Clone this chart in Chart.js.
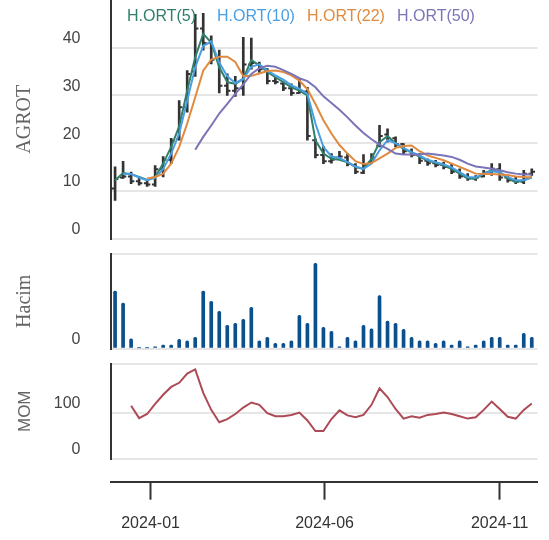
<!DOCTYPE html>
<html>
<head>
<meta charset="utf-8">
<title>AGROT</title>
<script src="https://cdn.jsdelivr.net/npm/chart.js@4"></script>
<style>
  html, body { margin: 0; padding: 0; background: #fff; }
  #wrap { position: relative; width: 549px; height: 540px; overflow: hidden; }
  #wrap canvas { position: absolute; left: 0; }
  #legend { position: absolute; left: 127px; top: 6px; display: flex;
            font: 16px "Liberation Sans", Arial, sans-serif; line-height: 20px; }
  #legend span { width: 90px; white-space: nowrap; }
</style>
</head>
<body>
<div id="wrap">
  <canvas id="price" width="549" height="240" style="top:0"></canvas>
  <canvas id="volume" width="549" height="100" style="top:250px"></canvas>
  <canvas id="mom" width="549" height="102" style="top:360px"></canvas>
  <canvas id="dates" width="549" height="70" style="top:470px"></canvas>
  <div id="legend"></div>
</div>
<script>
/* weekly bars, Friday closes */
const weekDates = [
  "2023-12-01","2023-12-08","2023-12-15","2023-12-22","2023-12-29",
  "2024-01-05","2024-01-12","2024-01-19","2024-01-26",
  "2024-02-02","2024-02-09","2024-02-16","2024-02-23",
  "2024-03-01","2024-03-08","2024-03-15","2024-03-22","2024-03-29",
  "2024-04-05","2024-04-12","2024-04-19","2024-04-26",
  "2024-05-03","2024-05-10","2024-05-17","2024-05-24","2024-05-31",
  "2024-06-07","2024-06-14","2024-06-21","2024-06-28",
  "2024-07-05","2024-07-12","2024-07-19","2024-07-26",
  "2024-08-02","2024-08-09","2024-08-16","2024-08-23","2024-08-30",
  "2024-09-06","2024-09-13","2024-09-20","2024-09-27",
  "2024-10-04","2024-10-11","2024-10-18","2024-10-25",
  "2024-11-01","2024-11-08","2024-11-15","2024-11-22","2024-11-29"
];
const openPrices  = [10.5,12.8,13.0,12.0,11.6,11.3,14.5,16.5,20.8,27.5,35.0,44.0,41.0,37.5,32.0,31.0,31.5,36.5,36.5,35.5,33.0,32.5,31.5,30.5,30.8,20.6,17.5,16.2,17.0,17.0,15.4,13.8,16.0,19.5,21.8,21.0,19.8,18.3,17.5,16.3,15.8,15.4,15.0,14.0,13.0,12.6,13.0,13.8,14.5,12.8,12.2,11.9,13.6];
const highPrices  = [15.0,16.2,13.9,12.9,12.2,15.3,17.2,21.0,28.9,35.2,47.0,47.2,42.5,39.5,34.5,34.0,42.2,42.0,37.0,35.6,33.8,32.8,32.4,33.5,31.7,20.9,19.3,17.8,18.3,17.8,15.7,17.6,17.8,23.7,23.0,21.3,19.9,18.8,17.8,16.7,16.4,16.0,15.7,14.6,13.6,13.2,14.3,15.7,15.7,13.2,12.9,14.3,14.6];
const lowPrices   = [8.0,12.6,11.5,11.2,10.9,10.9,12.9,15.7,20.6,26.5,34.0,39.5,36.6,30.5,30.0,29.8,30.0,35.5,34.8,32.4,32.4,31.0,30.0,30.4,20.6,16.9,15.7,15.8,16.9,15.2,13.6,13.6,15.7,19.2,20.2,19.2,17.8,17.1,15.7,15.3,15.0,14.6,13.6,12.6,12.2,12.2,12.9,13.2,12.2,11.8,11.5,11.5,13.2];
const closePrices = [12.5,13.0,12.0,11.6,11.3,14.5,16.5,20.5,27.5,34.5,44.0,41.0,37.5,32.0,31.0,31.5,36.5,36.8,35.5,33.0,32.8,31.5,30.5,30.8,21.5,17.5,16.2,16.5,17.2,15.6,14.0,15.5,17.0,21.5,21.0,19.8,18.3,17.5,16.3,15.8,15.4,15.0,14.0,13.0,12.6,12.8,13.8,14.6,12.8,12.2,11.9,13.6,14.0];

/* moving averages (H.ORT) */
const ma5  = [12.2,13.7,13.5,12.9,12.3,12.9,15.7,19.2,23.5,31.0,38.0,42.9,41.1,35.9,32.8,32.4,33.5,37.4,36.3,34.9,33.8,32.8,31.7,31.0,30.0,20.6,17.8,16.7,16.5,16.0,15.0,14.6,16.7,20.2,21.5,19.9,18.8,18.1,17.1,16.4,15.8,15.3,14.6,13.6,12.6,12.6,13.6,14.3,13.9,12.6,11.8,12.2,12.9];
const ma10 = [null,13.6,13.5,12.8,12.2,12.7,14.6,17.8,22.0,28.9,35.9,40.4,41.3,36.9,34.0,32.6,33.4,36.0,36.5,35.2,34.2,33.3,32.1,31.4,30.3,24.1,19.2,17.2,16.9,16.0,15.1,14.6,15.7,18.5,20.6,20.0,19.0,18.1,17.4,16.5,16.0,15.5,14.9,13.9,12.9,12.8,13.6,14.1,13.9,12.9,12.2,12.2,12.8];
const ma22 = [null,null,null,null,12.6,12.9,13.6,15.7,19.2,24.1,29.6,35.2,37.5,38.1,38.1,37.0,34.0,34.1,34.6,35.1,35.2,34.9,34.2,33.1,31.3,28.2,24.8,22.0,19.6,17.8,16.2,15.6,15.8,16.8,17.8,19.0,19.4,19.5,18.3,17.4,16.9,16.4,15.7,15.0,14.3,13.6,13.5,13.5,13.4,13.3,13.0,12.9,12.8];
const ma50 = [null,null,null,null,null,null,null,null,null,null,18.6,21.3,23.7,26.2,28.2,30.3,32.3,34.5,35.7,36.2,36.0,35.3,34.5,33.6,33.0,31.7,29.8,28.4,27.0,25.4,23.7,22.1,20.8,19.7,18.8,17.8,17.6,17.6,17.6,17.8,17.6,17.4,17.1,16.5,15.7,15.1,14.9,14.6,14.3,13.9,13.6,13.4,13.4];
const maNames  = ["H.ORT(5)", "H.ORT(10)", "H.ORT(22)", "H.ORT(50)"];
const maColors = ["#2f7f6b", "#4a9fe3", "#e08a3f", "#7a74b8"];

/* volume (relative units) and momentum */
const volume = [60.7,48.1,10.2,0.7,0.7,1.8,3.5,3.5,9.8,8.1,11.9,60.7,49.8,39.3,24.6,26.7,30.9,43.5,8.1,11.9,5.6,5.6,8.1,35.1,26.7,90.2,22.5,18.2,1.8,11.9,8.1,24.6,20.7,56.1,29.1,26.7,20.4,11.9,8.1,8.1,5.6,8.1,3.5,8.1,1.8,3.5,8.1,11.9,11.9,3.5,3.5,16.1,11.9];
const momentum = [null,null,116,89,98,120,140,157,166,186,195,144,107,80,87,98,112,123,118,100,93,93,96,101,84,61,61,87,106,95,91,96,118,154,135,109,88,93,90,96,98,101,98,93,88,91,107,125,109,92,88,107,121];

/* axes */
const priceTicks  = [0, 10, 20, 30, 40];
const volumeTicks = [0];
const momTicks    = [0, 100];
const dateTicks      = ["2024-01-01", "2024-06-01", "2024-11-01"];
const dateTickLabels = ["2024-01", "2024-06", "2024-11"];
const PRICE_MAX = 50, VOLUME_MAX = 100, MOM_MAX = 208;
const X_MIN = "2023-11-27", X_MAX = "2024-12-04";

const FONT = '"Liberation Sans", Arial, sans-serif';
const SERIF = '"Liberation Serif", "Times New Roman", serif';
const AXIS_W = 110.5;      // left axis block, keeps all panels aligned
const RIGHT_PAD = 11.5;
const TICK_DAYS = 1.5;     // open/close nub offset

const day = s => Date.parse(s) / 864e5;
const series = arr => weekDates.map((d, i) => ({ x: day(d), y: arr[i] }));

function hiddenX() {
  return { type: "linear", min: day(X_MIN), max: day(X_MAX), display: false,
           offset: false, grid: { offset: false } };
}

function panelY(max, gridVals, labelVals, title, titleFont, titlePad) {
  return {
    min: 0, max: max,
    afterBuildTicks: s => { s.ticks = gridVals.map(v => ({ value: v })); },
    afterFit: s => { s.width = AXIS_W; s.paddingTop = 0; s.paddingBottom = 0; },
    ticks: {
      font: { family: FONT, size: 16 }, color: "#444", padding: 30, labelOffset: -9,
      callback: v => labelVals.includes(v) ? String(v) : ""
    },
    grid: { color: "#e6e6e6", lineWidth: 2, drawTicks: false },
    border: { color: "#333", width: 2 },
    title: { display: true, text: title, font: titleFont, color: "#666",
             padding: { top: titlePad, bottom: 0 } }
  };
}

const base = {
  responsive: false,
  animation: false,
  events: [],
  plugins: { legend: { display: false }, tooltip: { enabled: false } }
};

function padding(top, bottom, left) {
  return { autoPadding: false, padding: { left: left || 0, right: RIGHT_PAD, top: top, bottom: bottom } };
}

/* ---------- price panel ---------- */
const ohlcDatasets = [
  {
    type: "bar", order: 10,
    data: weekDates.map((d, i) => ({ x: day(d), y: [lowPrices[i], highPrices[i]] })),
    backgroundColor: "#333", barThickness: 2
  },
  {
    type: "line", order: 9, showLine: false,
    data: weekDates.map((d, i) => ({ x: day(d) - TICK_DAYS, y: openPrices[i] })),
    pointStyle: "line", pointRadius: 1.5, pointBorderWidth: 2, borderColor: "#333"
  },
  {
    type: "line", order: 9, showLine: false,
    data: weekDates.map((d, i) => ({ x: day(d) + TICK_DAYS, y: closePrices[i] })),
    pointStyle: "line", pointRadius: 1.5, pointBorderWidth: 2, borderColor: "#333"
  }
];
const maDatasets = [ma50, ma22, ma10, ma5].map((arr, k) => {
  const idx = 3 - k;
  return {
    type: "line", order: k + 1, label: maNames[idx],
    data: series(arr), borderColor: maColors[idx], borderWidth: 2,
    pointRadius: 0, tension: 0
  };
});

new Chart(document.getElementById("price"), {
  type: "line",
  data: { datasets: ohlcDatasets.concat(maDatasets) },
  options: Object.assign({}, base, {
    layout: padding(0, 1.5),
    scales: {
      x: hiddenX(),
      y: panelY(PRICE_MAX, priceTicks, priceTicks, "AGROT", { family: SERIF, size: 20 }, 13)
    }
  })
});

// legend: text only, in the line colours
const legend = document.getElementById("legend");
maNames.forEach((name, i) => {
  const s = document.createElement("span");
  s.textContent = name;
  s.style.color = maColors[i];
  legend.appendChild(s);
});

/* ---------- volume panel ---------- */
new Chart(document.getElementById("volume"), {
  type: "bar",
  data: { datasets: [{
    data: series(volume), backgroundColor: "#0b4f8c",
    barThickness: 3, borderRadius: 1.5
  }] },
  options: Object.assign({}, base, {
    layout: padding(4, 1.5),
    scales: {
      x: hiddenX(),
      y: panelY(VOLUME_MAX, volumeTicks.concat([VOLUME_MAX]), volumeTicks, "Hacim", { family: SERIF, size: 20 }, 13)
    }
  })
});

/* ---------- momentum panel ---------- */
new Chart(document.getElementById("mom"), {
  type: "line",
  data: { datasets: [{
    data: series(momentum), borderColor: "#ad4a55", borderWidth: 2,
    pointRadius: 0, tension: 0
  }] },
  options: Object.assign({}, base, {
    layout: padding(3.5, 3),
    scales: {
      x: hiddenX(),
      y: panelY(MOM_MAX, momTicks.concat([MOM_MAX]), momTicks, "MOM", { family: "Liberation Sans", size: 17 }, 15)
    }
  })
});

/* ---------- shared date axis ---------- */
new Chart(document.getElementById("dates"), {
  type: "line",
  data: { datasets: [] },
  options: Object.assign({}, base, {
    layout: padding(0, 0, AXIS_W),
    scales: {
      x: {
        type: "linear", position: "bottom", min: day(X_MIN), max: day(X_MAX),
        afterBuildTicks: s => { s.ticks = dateTicks.map(d => ({ value: day(d) })); },
        afterFit: s => { s.height = 58.3; s.paddingLeft = 0; s.paddingRight = 0; },
        ticks: {
          autoSkip: false, maxRotation: 0, padding: 14,
          font: { family: FONT, size: 16 }, color: "#333",
          callback: (v, i) => dateTickLabels[i]
        },
        grid: { drawOnChartArea: false, drawTicks: true, tickLength: 18, tickWidth: 2, tickColor: "#333" },
        border: { color: "#333", width: 2 }
      },
      y: { display: false }
    }
  })
});
</script>
</body>
</html>
